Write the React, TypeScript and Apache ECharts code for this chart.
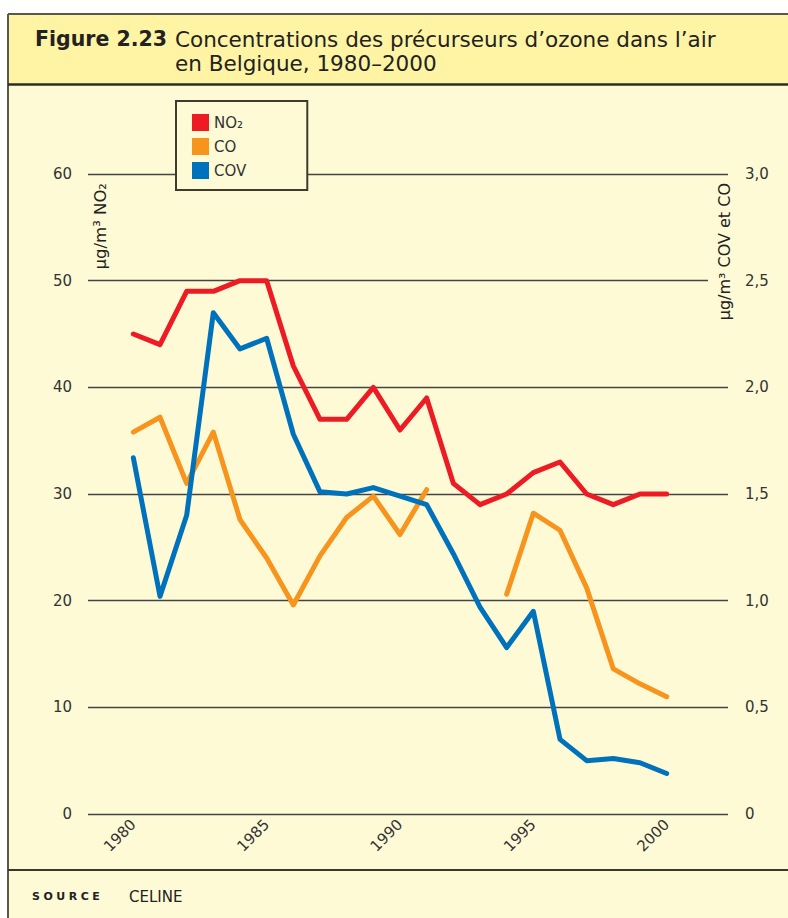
import React, { useEffect, useRef } from 'react';
import * as echarts from 'echarts';

const years = [1980, 1981, 1982, 1983, 1984, 1985, 1986, 1987, 1988, 1989, 1990, 1991, 1992, 1993, 1994, 1995, 1996, 1997, 1998, 1999, 2000];
const no2 = [45, 44, 49, 49, 50, 50, 42, 37, 37, 40, 36, 39, 31, 29, 30, 32, 33, 30, 29, 30, 30];
const co = [1.79, 1.86, 1.55, 1.79, 1.38, 1.2, 0.98, 1.21, 1.39, 1.49, 1.31, 1.52, null, null, 1.03, 1.41, 1.33, 1.06, 0.68, 0.61, 0.55];
const cov = [1.67, 1.02, 1.4, 2.35, 2.18, 2.23, 1.78, 1.51, 1.5, 1.53, 1.49, 1.45, 1.22, 0.97, 0.78, 0.95, 0.35, 0.25, 0.26, 0.24, 0.19];
const yearTicks = [1980, 1985, 1990, 1995, 2000];
const seriesNames = ['NO₂', 'CO', 'COV'];
const seriesColors = ['#ED1C24', '#F7941D', '#0072BC'];

const BODY = '#FFFAD6';
const BAND = '#FFF4A3';
const FONT = '"DejaVu Sans", Verdana, sans-serif';

export default function App() {
  const ref = useRef<HTMLDivElement>(null);
  useEffect(() => {
    document.body.style.margin = '0';
    const chart = echarts.init(ref.current!, null, { renderer: 'svg' });
    const pairs = (arr: (number | null)[]) => years.map((y, i) => [y, arr[i]]);
    const lineSeries = (idx: number, data: (number | null)[], axis: number) => ({
      name: seriesNames[idx],
      type: 'line',
      yAxisIndex: axis,
      data: pairs(data),
      showSymbol: false,
      connectNulls: false,
      color: seriesColors[idx],
      lineStyle: { width: 5, color: seriesColors[idx], cap: 'round', join: 'round' },
    });
    chart.setOption({
      animation: false,
      backgroundColor: BODY,
      textStyle: { fontFamily: FONT },
      grid: { left: 88, right: 60, top: 174, bottom: 104, containLabel: false },
      legend: {
        orient: 'vertical',
        left: 176,
        top: 101,
        itemWidth: 17,
        itemHeight: 17,
        itemGap: 7,
        padding: [13, 61, 11, 16],
        backgroundColor: BODY,
        borderColor: '#3d3a2e',
        borderWidth: 2,
        icon: 'rect',
        textStyle: { fontSize: 15, color: '#333', fontFamily: FONT },
        data: seriesNames,
      },
      xAxis: {
        type: 'value',
        min: 1978.3,
        max: 2002.3,
        axisLine: { show: false },
        axisTick: { show: false },
        splitLine: { show: false },
        axisLabel: {
          customValues: yearTicks,
          rotate: 45,
          fontSize: 15,
          color: '#333',
          fontFamily: FONT,
          margin: 8,
          formatter: (v: number) => String(Math.round(v)),
        },
      },
      yAxis: [
        {
          type: 'value',
          min: 0,
          max: 60,
          interval: 10,
          axisLine: { show: false },
          axisTick: { show: false },
          splitLine: { show: true, lineStyle: { color: '#444', width: 1.4 } },
          axisLabel: { fontSize: 15, color: '#333', fontFamily: FONT, margin: 16, padding: [0, 0, 11, 0] },
        },
        {
          type: 'value',
          min: 0,
          max: 3,
          interval: 0.5,
          position: 'right',
          axisLine: { show: false },
          axisTick: { show: false },
          splitLine: { show: false },
          axisLabel: {
            fontSize: 15,
            color: '#333',
            fontFamily: FONT,
            margin: 17,
            padding: [0, 0, 11, 0],
            formatter: (v: number) => (v === 0 ? '0' : v.toFixed(1).replace('.', ',')),
          },
        },
      ],
      graphic: [
        { type: 'rect', shape: { x: 0, y: 0, width: 788, height: 14 }, style: { fill: '#fff' }, z: 1 },
        { type: 'rect', shape: { x: 0, y: 0, width: 8, height: 918 }, style: { fill: '#fff' }, z: 1 },
        { type: 'rect', shape: { x: 8, y: 14, width: 780, height: 70 }, style: { fill: BAND }, z: 1 },
        { type: 'line', shape: { x1: 8, y1: 14, x2: 788, y2: 14 }, style: { stroke: '#5c5849', lineWidth: 2 }, z: 2 },
        { type: 'line', shape: { x1: 8, y1: 14, x2: 8, y2: 918 }, style: { stroke: '#5c5849', lineWidth: 2 }, z: 2 },
        { type: 'line', shape: { x1: 8, y1: 84.5, x2: 788, y2: 84.5 }, style: { stroke: '#2e2c22', lineWidth: 2.5 }, z: 2 },
        { type: 'line', shape: { x1: 8, y1: 870, x2: 788, y2: 870 }, style: { stroke: '#3a382e', lineWidth: 2 }, z: 2 },
        {
          type: 'text', x: 35, y: 39, z: 3,
          style: { text: 'Figure 2.23', fontSize: 20.5, fontWeight: 'bold', fontFamily: FONT, fill: '#222', verticalAlign: 'middle' },
        },
        {
          type: 'text', x: 175, y: 39, z: 3,
          style: { text: 'Concentrations des précurseurs d’ozone dans l’air', fontSize: 21.5, fontFamily: FONT, fill: '#222', verticalAlign: 'middle' },
        },
        {
          type: 'text', x: 175, y: 63, z: 3,
          style: { text: 'en Belgique, 1980–2000', fontSize: 21.5, fontFamily: FONT, fill: '#222', verticalAlign: 'middle' },
        },
        {
          type: 'text', x: 100, y: 183, rotation: Math.PI / 2, z: 3,
          style: { text: 'µg/m³ NO₂', fontSize: 16.5, fontFamily: FONT, fill: '#222', align: 'right', verticalAlign: 'middle' },
        },
        {
          type: 'text', x: 724, y: 183, rotation: Math.PI / 2, z: 10,
          style: {
            text: 'µg/m³ COV et CO', fontSize: 16, fontFamily: FONT, fill: '#222', align: 'right', verticalAlign: 'middle',
            backgroundColor: BODY, padding: [12, 0, 4, 0],
          },
        },
        {
          type: 'text', x: 129, y: 896.5, z: 3,
          style: { text: 'CELINE', fontSize: 15, fontFamily: FONT, fill: '#222', verticalAlign: 'middle' },
        },
      ],
      series: [lineSeries(0, no2, 0), lineSeries(1, co, 1), lineSeries(2, cov, 1)],
    });
    return () => chart.dispose();
  }, []);
  return (
    <div style={{ position: 'absolute', left: 0, top: 0, width: 788, height: 918 }}>
      <div ref={ref} style={{ width: 788, height: 918 }} />
      <div
        style={{
          position: 'absolute',
          left: 32,
          top: 889,
          fontFamily: FONT,
          fontWeight: 'bold',
          fontSize: 11,
          letterSpacing: '3.5px',
          color: '#222',
          lineHeight: '16px',
        }}
      >
        SOURCE
      </div>
    </div>
  );
}
